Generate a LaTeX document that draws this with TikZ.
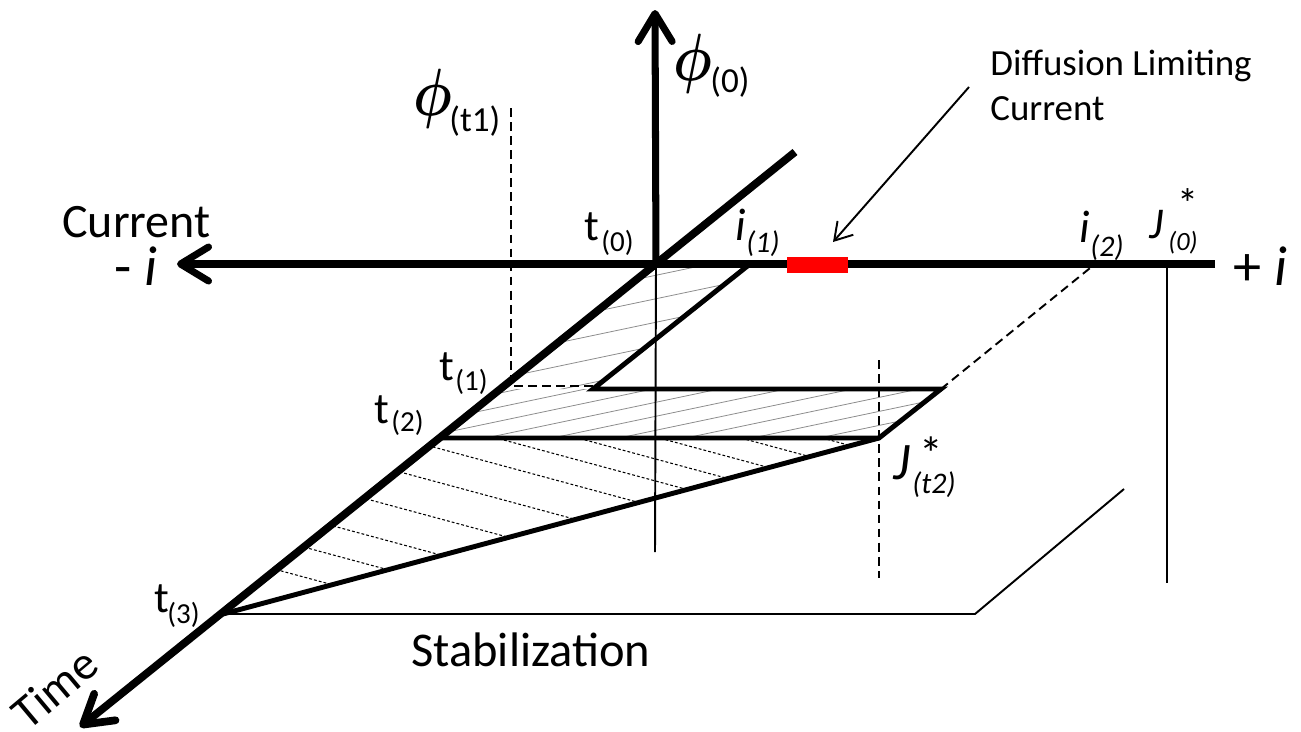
\documentclass[tikz,border=0pt]{standalone}
\usepackage{amsmath}
\usepackage{fontspec}
\setmainfont{Carlito}
\usetikzlibrary{arrows.meta}
\newcommand\myfs[1]{\fontsize{#1}{#1}\selectfont}
\newcommand\bigphi{\scalebox{3.1}[3.8]{$\boldsymbol{\phi}$}}
\begin{document}
\begin{tikzpicture}[x=0.02cm,y=-0.02cm,
  axis/.style={line width=4pt},
  barb/.style={-{Straight Barb[length=0.56cm,width=0.68cm,round]}},
  zline/.style={line width=2.8pt},
  thinline/.style={line width=1.1pt},
  dashline/.style={line width=1.1pt, dash pattern=on 5pt off 3pt},
  hatchA/.style={line width=0.45pt, black!45},
  hatchB/.style={line width=0.6pt, dash pattern=on 1.6pt off 1.2pt},
  lab/.style={inner sep=0pt, anchor=base west},
]
\useasboundingbox (0,0) rectangle (1301,731);

% key points
\coordinate (O) at (656,264);
\coordinate (Ttop) at (795,152);
\coordinate (Ttip) at (80,727);
\coordinate (Vtip) at (655,10);
\coordinate (Htip) at (177,264);
\coordinate (Hend) at (1215,264);
\coordinate (I1) at (750,264);
\coordinate (A) at (593,389);
\coordinate (B) at (941,389);
\coordinate (C) at (879,438);
\coordinate (T1) at (500,389);
\coordinate (T2) at (441,438);
\coordinate (T3) at (223,614);
\coordinate (I2) at (1095,264);
\coordinate (Vbot) at (655,552);
\coordinate (P1top) at (511,108);
\coordinate (P1c) at (511,386);
\coordinate (P1e) at (593,386);
\coordinate (Jt2top) at (879,360);
\coordinate (Jt2bot) at (879,578);
\coordinate (J0top) at (1167,264);
\coordinate (J0bot) at (1167,583);
\coordinate (S1) at (975,614);
\coordinate (S2) at (1124,489);
\coordinate (Dstart) at (969,87);
\coordinate (Dtip) at (833,242);

% hatching
\begin{scope}
  \clip (O) -- (I1) -- (A) -- (T1) -- cycle;
  \foreach \c in {329,352.5,376,399.5,423}
    \draw[hatchA] (400,\c) -- (1000,\c-126);
\end{scope}
\begin{scope}
  \clip (T1) -- (B) -- (C) -- (T2) -- cycle;
  \foreach \c in {414,428,...,540}
    \draw[hatchA] (400,\c) -- (1000,\c-126);
\end{scope}
\begin{scope}
  \clip (T2) -- (C) -- (T3) -- cycle;
  \foreach \c in {270,292,314,336,358,384,418,454,490,519,549}
    \draw[hatchB] (200,\c) -- (1000,\c+216);
\end{scope}

% thin and dashed lines
\draw[thinline] (O) -- (Vbot);
\draw[dashline] (P1top) -- (P1c) -- (P1e);
\draw[dashline] (Jt2top) -- (Jt2bot);
\draw[dashline] (B) -- (I2);
\draw[thinline] (J0top) -- (J0bot);
\draw[thinline] (T3) -- (S1) -- (S2);

% thick profile
\draw[zline] (I1) -- (A) -- (B) -- (C) -- (T2);
\draw[zline] (C) -- (T3);

% axes
\draw[axis, barb] (Hend) -- (Htip);
\draw[axis, barb] (O) -- (Vtip);
\draw[axis, barb, line width=4.4pt] (Ttop) -- (Ttip);

% diffusion limiting current
\fill[red] (787,257) rectangle (848,273);
\draw[thinline, -{Straight Barb[length=0.34cm,width=0.42cm]}] (Dstart) -- (Dtip);

% labels
\node[lab] (diff1) at (990,75) {\myfs{21}Diffusion Limiting};
\node[lab] (diff2) at (990,120) {\myfs{21}Current};

\node[lab] (phi0) at (673,80) {\bigphi};
\node[lab] (phi0s) at (710,92) {\myfs{20}(0)};
\node[lab] (phi1) at (413,115) {\bigphi};
\node[lab] (phi1s) at (449,131) {\myfs{20}(t1)};

\node[lab] (cur) at (62,237) {\myfs{27.3}Current};
\node[lab] (mi) at (114,285) {\myfs{32}- \textit{i}};
\node[lab] (pi) at (1233,285) {\myfs{32}+ \textit{i}};

\node[lab] (t0) at (584,240) {\myfs{25}t};
\node[lab] (t0s) at (601,251) {\myfs{16.5}(0)};
\node[lab] (t1) at (439,380) {\myfs{25}t};
\node[lab] (t1s) at (455,390) {\myfs{16.5}(1)};
\node[lab] (t2) at (374,423) {\myfs{25}t};
\node[lab] (t2s) at (391,431) {\myfs{16.5}(2)};
\node[lab] (t3) at (154,612) {\myfs{25}t};
\node[lab] (t3s) at (167,623) {\myfs{16.5}(3)};

\node[lab] (i1) at (735,240) {\myfs{26}\textit{i}};
\node[lab] (i1s) at (746,252) {\myfs{17}\textit{(1)}};
\node[lab] (i2) at (1079,242) {\myfs{26}\textit{i}};
\node[lab] (i2s) at (1090,256) {\myfs{17}\textit{(2)}};

\node[lab] (J0) at (1149,238) {\myfs{25}\textit{J}};
\node[lab] (J0st) at (1177,218) {\myfs{24}*};
\node[lab] (J0s) at (1168,250) {\myfs{15}\textit{(0)}};
\node[lab] (Jt) at (893,479) {\myfs{30}\textit{J}};
\node[lab] (Jtst) at (919,470) {\myfs{27}*};
\node[lab] (Jts) at (912,493) {\myfs{17}\textit{(t2)}};

\node[lab] (stab) at (411,666) {\myfs{27.6}Stabilization};
\node[inner sep=0pt, rotate=40] (time) at (55,688) {\myfs{27}Time};
\end{tikzpicture}
\end{document}
